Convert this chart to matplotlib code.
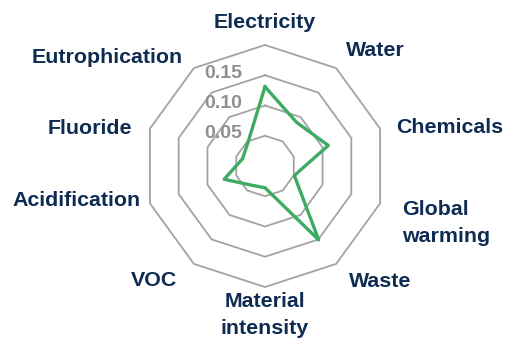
import numpy as np
import matplotlib
matplotlib.use("Agg")
import matplotlib.pyplot as plt

plt.rcParams['font.family'] = ['Liberation Sans', 'DejaVu Sans']

# impact categories, clockwise from the top
categories = ["Electricity", "Water", "Chemicals", "Global\nwarming", "Waste",
              "Material\nintensity", "VOC", "Acidification", "Fluoride",
              "Eutrophication"]
values = [0.131, 0.089, 0.110, 0.051, 0.151, 0.036, 0.039, 0.071, 0.039, 0.048]
rings = [0.05, 0.10, 0.15, 0.20]
ring_labels = ["0.05", "0.10", "0.15"]

# where each category name sits (angle in degrees, radius), and its alignment
label_pos = [(0, 0.238), (43.7, 0.263), (78.3, 0.311), (112.7, 0.245), (135, 0.269),
             (180, 0.246), (224, 0.264), (259.5, 0.316), (282, 0.296), (304.6, 0.317)]
label_ha = ["center"] * 10
label_ha[3] = "left"

navy = "#0e2b52"
green = "#3dab62"
grey = "#a3a3a3"

fig = plt.figure(figsize=(5.08, 3.38), dpi=100)
ax = fig.add_axes([144 / 508, 51 / 338, 242 / 508, 242 / 338], projection="polar")
ax.set_theta_zero_location("N")
ax.set_theta_direction(-1)
ax.set_ylim(0, 0.20)
ax.grid(False)
ax.spines["polar"].set_visible(False)
ax.set_xticks([])
ax.set_yticks([])
ax.patch.set_alpha(0)

n = len(categories)
theta = np.linspace(0, 2 * np.pi, n, endpoint=False)
theta_closed = np.append(theta, theta[0])

# decagon rings instead of circles
for r in rings:
    ax.plot(theta_closed, [r] * (n + 1), color=grey, lw=1.3, clip_on=False, zorder=1)

for r, txt in zip(rings, ring_labels):
    ax.annotate(txt, xy=(0, r), xytext=(-23, 2), textcoords="offset pixels",
                ha="right", va="center", fontsize=14, fontweight="bold", color="#8f8f8f")

vals = np.append(values, values[0])
ax.plot(theta_closed, vals, color=green, lw=2.4, zorder=3, clip_on=False)

for name, (ang, rad), ha in zip(categories, label_pos, label_ha):
    ax.text(np.deg2rad(ang), rad, name, ha=ha, va="center", fontsize=15.4,
            fontweight="bold", color=navy, linespacing=1.5, multialignment=ha)

fig.savefig("out.png", dpi=100)
